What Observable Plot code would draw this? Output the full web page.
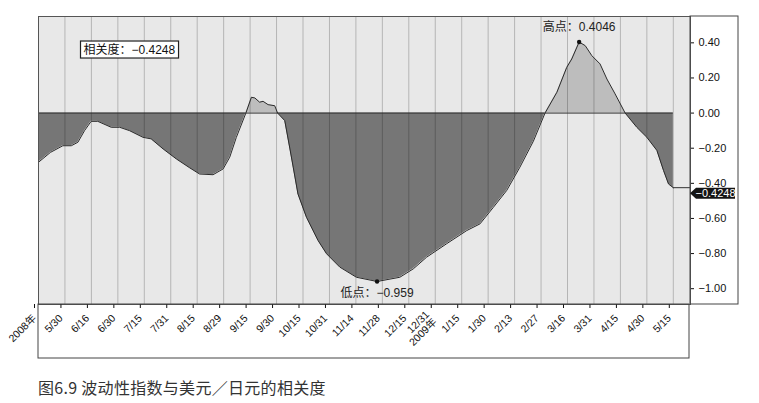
<!DOCTYPE html>
<html><head><meta charset="utf-8">
<script src="https://cdn.jsdelivr.net/npm/d3@7"></script>
<script src="https://cdn.jsdelivr.net/npm/@observablehq/plot@0.6"></script>
<style>
body{margin:0;background:#fff;font-family:"Liberation Sans",Arial,"Noto Sans CJK SC",sans-serif;}
#cap{margin:15px 0 0 38px;font-size:16px;line-height:20px;color:#333;font-family:"Noto Sans CJK SC",sans-serif;letter-spacing:0.3px;}
</style></head><body><div id="chart"></div><div id="cap">图6.9 波动性指数与美元／日元的相关度</div>
<script>
// x-axis category labels (evenly spaced trading-period marks)
const tickLabels = ["2008年","5/30","6/16","6/30","7/15","7/31","8/15","8/29","9/15","9/30","10/15","10/31","11/14","11/28","12/15","12/31\n2009年","1/15","1/30","2/13","2/27","3/16","3/31","4/15","4/30","5/15"];
const yTicks = [0.4,0.2,0,-0.2,-0.4,-0.6,-0.8,-1.0];
// positions along the tick index and correlation values
const xIdx = [0,0.45,0.92,1.24,1.49,1.74,1.99,2.24,2.75,3.07,3.44,3.95,4.26,4.71,5.21,5.72,6.09,6.6,6.98,7.23,7.48,7.84,8.05,8.18,8.36,8.49,8.68,8.93,9.04,9.31,9.5,9.63,9.81,10.13,10.57,10.89,11.39,12.02,12.8,13.66,14.17,14.67,15.43,16.19,16.69,17.2,17.7,18.2,18.71,19.15,19.6,19.97,20.16,20.44,20.67,20.92,21.23,21.49,21.8,22.18,22.62,23.0,23.38,23.63,23.82,24];
const corr = [-0.280,-0.224,-0.186,-0.186,-0.166,-0.100,-0.047,-0.047,-0.081,-0.081,-0.100,-0.138,-0.147,-0.204,-0.261,-0.312,-0.347,-0.351,-0.318,-0.251,-0.138,0,0.090,0.086,0.062,0.067,0.048,0.042,0,-0.043,-0.199,-0.308,-0.461,-0.593,-0.726,-0.801,-0.877,-0.935,-0.959,-0.935,-0.887,-0.821,-0.744,-0.669,-0.631,-0.536,-0.441,-0.308,-0.160,0,0.119,0.260,0.308,0.4046,0.384,0.327,0.280,0.194,0.109,0,-0.081,-0.138,-0.213,-0.327,-0.404,-0.4248];
const peakLabel = "高点：0.4046";
const troughLabel = "低点：−0.959";
const boxLabel = "相关度：−0.4248";
const endLabel = "−0.4248";

const data = xIdx.map((x, i) => ({x, v: corr[i]}));
const tickIdx = tickLabels.map((_, i) => i);
const lastX = xIdx[xIdx.length - 1], lastV = corr[corr.length - 1];
const iMax = d3.maxIndex(corr), iMin = d3.minIndex(corr);
const peak = data[iMax], trough = data[iMin];
const xMax = 24.65;
const fmt = d3.format(".2f");

const plot = Plot.plot({
  width: 759, height: 362,
  marginLeft: 38, marginRight: 69, marginTop: 16, marginBottom: 58,
  style: {fontFamily: '"Liberation Sans", Arial, "Noto Sans CJK SC", sans-serif', fontSize: "11px", color: "#111", background: "#fff", overflow: "visible"},
  x: {domain: [0, xMax], label: null},
  y: {domain: [-1.09, 0.55], label: null},
  marks: [
    Plot.frame({fill: "#e8e8e8", stroke: null}),
    Plot.areaY(data, {x: "x", y1: 0, y2: d => Math.max(0, d.v), fill: "#bdbdbd"}),
    Plot.areaY(data, {x: "x", y1: 0, y2: d => Math.min(0, d.v), fill: "#767676"}),
    Plot.ruleX(tickIdx, {stroke: "#000", strokeOpacity: 0.28, strokeWidth: 0.8}),
    Plot.ruleY([0], {x1: 0, x2: lastX, stroke: "#333"}),
    Plot.line(data, {x: "x", y: "v", stroke: "#2a2a2a", strokeWidth: 1}),
    Plot.ruleY([lastV], {x1: lastX, x2: xMax, stroke: "#333"}),
    Plot.dot([peak, trough], {x: "x", y: "v", r: 2.2, fill: "#111"}),
    Plot.text([peak], {x: "x", y: "v", text: () => peakLabel, dy: -15, fontSize: 12, fill: "#222"}),
    Plot.text([trough], {x: "x", y: "v", text: () => troughLabel, dy: 12, fontSize: 12, fill: "#222"}),
    Plot.text([boxLabel], {frameAnchor: "top-left", dx: 45, dy: 29, textAnchor: "start", fontSize: 12, fill: "#111"}),
    Plot.frame({stroke: "#555"}),
    Plot.axisX({ticks: tickIdx, tickFormat: i => tickLabels[i], tickRotate: -45, tickSize: 4, tickPadding: 8, dx: -4, fontSize: 10.5, label: null}),
    Plot.axisY({anchor: "right", ticks: yTicks, tickFormat: fmt, tickSize: 3, tickPadding: 5, fontSize: 11, label: null})
  ]
});
document.getElementById("chart").appendChild(plot);

const svg = d3.select(plot);
const ys = plot.scale("y");
// panel outlines
svg.append("rect").attr("x", 690).attr("y", 16).attr("width", 48).attr("height", 288)
  .attr("fill", "none").attr("stroke", "#444");
svg.append("rect").attr("x", 38).attr("y", 304).attr("width", 651).attr("height", 54)
  .attr("fill", "none").attr("stroke", "#444");
// end-value tag
const yc = ys.apply(lastV) + 6;
svg.append("path")
  .attr("d", `M690,${yc}L696,${yc-5.5}H735V${yc+5.5}H696Z`).attr("fill", "#151515");
svg.append("text").attr("x", 715.5).attr("y", yc).attr("dy", "0.35em").attr("text-anchor", "middle")
  .attr("fill", "#fff").attr("font-size", 11).text(endLabel);
// box around the correlation label
svg.selectAll("text").filter(function(){ return this.textContent === boxLabel; }).each(function(){
  const b = this.getBBox();
  const r = d3.select(this.parentNode).insert("rect", () => this)
    .attr("x", b.x - 3).attr("y", b.y - 1).attr("width", b.width + 6).attr("height", b.height + 2)
    .attr("fill", "#fff").attr("stroke", "#222").attr("stroke-width", 1.2);
  const t = this.getAttribute("transform");
  if (t) r.attr("transform", t);
});
</script></body></html>
